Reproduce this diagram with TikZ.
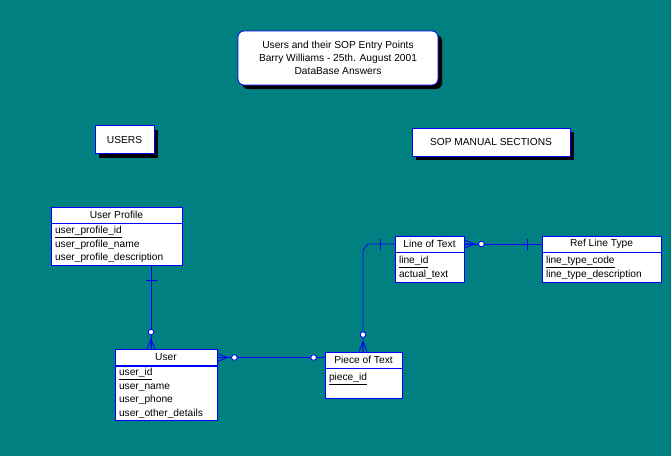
\documentclass[tikz,border=0pt]{standalone}
\usepackage{fontspec}
\setmainfont{Liberation Sans}
\usetikzlibrary{positioning, shadows}
\definecolor{erdTeal}{HTML}{008080}
\definecolor{erdBlue}{HTML}{0000FF}
\tikzset{
  rel/.style={draw=erdBlue, line width=0.8pt},
  boxshadow/.style={drop shadow={shadow xshift=4pt, shadow yshift=-4pt, fill=black, opacity=1}},
  labelbox/.style={draw=erdBlue, fill=white, line width=0.8pt, boxshadow, inner sep=0pt,
    font=\fontsize{10.2}{12.8}\selectfont},
  enthead/.style={draw=erdBlue, fill=white, line width=0.8pt, minimum height=16pt, inner sep=0pt,
    font=\fontsize{10.2}{13.5}\selectfont},
  entbody/.style={draw=erdBlue, fill=white, line width=0.8pt, inner xsep=4pt, inner ysep=0pt,
    align=left, font=\fontsize{10.2}{13.5}\selectfont},
  crowfoot/.pic={\draw[rel] (0,-4) -- (10,0) -- (0,4) (0,0) -- (10,0);
    \draw[rel, fill=white] (17,0) circle (2.8pt);},
  zerocirc/.pic={\draw[rel, fill=white] (11,0) circle (2.8pt);},
  onebar/.pic={\draw[rel] (14,-5.5) -- (14,5.5);}
}
\begin{document}
\begin{tikzpicture}[x=1pt, y=-1pt]
  \useasboundingbox[fill=erdTeal] (0,0) rectangle (671,456);
  % titles
  \node[labelbox, rounded corners=6pt, align=center, minimum width=200pt, minimum height=54pt] (title) at (338,58)
    {Users and their SOP Entry Points\\Barry Williams - 25th. August 2001\\DataBase Answers};
  \node[labelbox, minimum width=59pt, minimum height=28pt] (users) at (124.5,139.5) {USERS};
  \node[labelbox, minimum width=158pt, minimum height=28pt] (sop) at (491,142) {SOP MANUAL SECTIONS};
  % entities
  \node[enthead, minimum width=131pt] (upH) at (116.5,215) {User Profile};
  \node[entbody, text width=123pt, minimum height=42pt, below=0pt of upH] (upB)
    {\underline{user\_profile\_id}\\user\_profile\_name\\user\_profile\_description};
  \node[enthead, minimum width=102pt] (usrH) at (166,357.5) {User};
  \node[entbody, text width=94pt, minimum height=54pt, below=0pt of usrH] (usrB)
    {\underline{user\_id}\\user\_name\\user\_phone\\user\_other\_details};
  \node[enthead, minimum width=77pt] (potH) at (363.5,360) {Piece of Text};
  \node[entbody, text width=69pt, minimum height=30pt, below=0pt of potH] (potB)
    {\underline{piece\_id}\\~};
  \node[enthead, minimum width=69pt] (lotH) at (429.5,244) {Line of Text};
  \node[entbody, text width=61pt, minimum height=30pt, below=0pt of lotH] (lotB)
    {\underline{line\_id}\\actual\_text};
  \node[enthead, minimum width=119pt] (rltH) at (601.5,244) {Ref Line Type};
  \node[entbody, text width=111pt, minimum height=30pt, below=0pt of rltH] (rltB)
    {\underline{line\_type\_code}\\line\_type\_description};
  % relationships
  \draw[rel] (upB.south -| 151,0) coordinate (upEnd) -- (usrH.north -| 151,0) coordinate (usrTop);
  \pic[rotate=-90] at (upEnd) {onebar};
  \pic[rotate=90] at (usrTop) {crowfoot};
  \draw[rel] (usrH.east) -- (usrH.east -| potH.west) coordinate (potLeft);
  \pic at (usrH.east) {crowfoot};
  \pic[rotate=180] at (potLeft) {zerocirc};
  \draw[rel] (potH.north -| 363,0) coordinate (potTop) -- (363,250) -- (368,244) -- (lotH.west);
  \pic[rotate=90] at (potTop) {crowfoot};
  \pic[rotate=180] at (lotH.west) {onebar};
  \draw[rel] (lotH.east) -- (rltH.west);
  \pic at (lotH.east) {crowfoot};
  \pic[rotate=180] at (rltH.west) {onebar};
\end{tikzpicture}
\end{document}
